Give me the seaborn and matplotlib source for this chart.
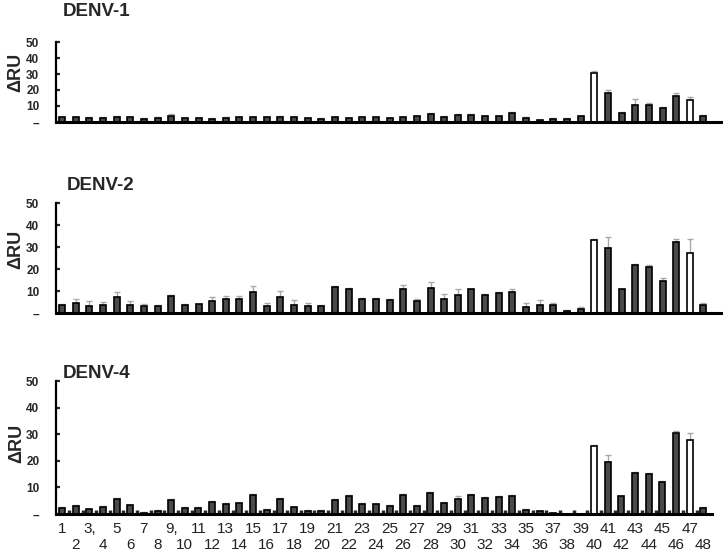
import numpy as np
import pandas as pd
import matplotlib
matplotlib.use("Agg")
import matplotlib.pyplot as plt
import seaborn as sns

##### DATA #####
peptides = list(range(1, 49))
white_bars = [40, 47]

denv1 = [2.9, 2.9, 2.8, 2.8, 3.3, 2.9, 1.9, 2.8, 3.9, 2.3, 2.5, 1.9,
         2.7, 2.9, 2.9, 2.9, 3.1, 2.9, 2.3, 2.1, 2.9, 2.3, 2.9, 2.9,
         2.3, 2.9, 3.5, 5.1, 3.3, 4.3, 4.3, 3.5, 3.5, 5.6, 2.7, 1.0,
         2.1, 2.1, 3.5, 30.5, 17.9, 5.6, 10.9, 10.5, 8.8, 16.5, 13.8, 3.9]
denv1_err = [0.4, 0.4, 0.4, 0.4, 0.5, 0.4, 0.3, 0.4, 0.8, 0.3, 0.3, 0.3,
             0.4, 0.4, 0.4, 0.4, 0.5, 0.4, 0.3, 0.3, 0.4, 0.3, 0.4, 0.4,
             0.3, 0.4, 0.5, 0.5, 0.4, 0.5, 0.5, 0.4, 0.4, 0.5, 0.3, 0.2,
             0.3, 0.3, 0.5, 1.5, 1.9, 0.5, 3.5, 1.4, 0.6, 1.6, 1.6, 0.5]

denv2 = [3.8, 4.8, 3.5, 3.6, 7.3, 3.9, 3.5, 3.5, 8.0, 3.8, 4.1, 5.8,
         6.5, 6.4, 9.7, 3.5, 7.6, 3.8, 3.3, 3.2, 12.1, 11.2, 6.3, 6.5,
         6.2, 11.2, 5.8, 11.4, 6.5, 8.2, 10.8, 8.5, 9.2, 9.5, 3.0, 3.8,
         3.6, 1.1, 2.0, 33.2, 29.5, 10.8, 21.8, 21.2, 14.7, 32.4, 27.3, 3.8]
denv2_err = [0.5, 1.7, 2.0, 1.4, 2.4, 1.8, 0.6, 0.3, 0.5, 0.6, 0.3, 1.4,
             1.4, 1.5, 2.7, 1.0, 2.6, 2.3, 1.2, 0.6, 0.3, 0.4, 0.6, 0.4,
             0.5, 1.8, 0.5, 3.0, 2.1, 2.7, 0.4, 0.3, 0.5, 1.4, 1.5, 2.4,
             1.2, 0.2, 1.0, 0.3, 5.0, 0.3, 0.4, 0.5, 1.2, 1.5, 6.4, 1.0]

denv4 = [2.2, 3.1, 1.7, 2.7, 5.6, 3.2, 0.5, 1.2, 5.4, 2.2, 2.4, 4.5,
         3.9, 4.0, 7.1, 1.6, 5.5, 2.5, 1.2, 1.2, 5.3, 6.8, 3.9, 3.6,
         3.1, 7.0, 3.1, 7.9, 4.3, 5.8, 7.3, 5.9, 6.3, 6.9, 1.5, 1.2,
         0.2, 0.0, 0.0, 25.6, 19.6, 6.6, 15.3, 14.9, 12.1, 30.3, 27.9, 2.3]
denv4_err = [0.3, 0.4, 0.2, 0.3, 0.4, 0.3, 0.1, 0.2, 0.4, 0.3, 0.3, 0.4,
             0.3, 0.3, 0.5, 0.2, 0.4, 0.3, 0.2, 0.2, 0.3, 0.4, 0.3, 0.3,
             0.3, 0.4, 0.3, 0.5, 0.3, 0.8, 0.4, 0.3, 0.3, 0.4, 0.2, 0.1,
             0.0, 0.0, 0.0, 0.3, 2.5, 0.3, 0.4, 0.4, 0.3, 1.0, 2.5, 0.3]

ytick_vals = [0, 10, 20, 30, 40, 50]
ytick_labels = ["–", "10", "20", "30", "40", "50"]
odd_pos = [p for p in peptides if p % 2 == 1]
odd_labels = ["3," if p == 3 else "9," if p == 9 else str(p) for p in odd_pos]
even_pos = [p for p in peptides if p % 2 == 0]
even_labels = [str(p) for p in even_pos]

##### STYLE #####
sns.set_style("white")
plt.rcParams["font.family"] = ["Liberation Sans", "DejaVu Sans"]

fig = plt.figure(figsize=(7.23, 5.55), dpi=100)

# title, values, errors, axes rect, xmax, label y, title position
panels = [
    ("DENV-1", denv1, denv1_err, [0.0775, 0.7802, 0.921, 0.1441], 49.35, 0.62, (63, 12)),
    ("DENV-2", denv2, denv2_err, [0.0775, 0.4355, 0.921, 0.1987], 49.35, 0.58, (67, 186)),
    ("DENV-4", denv4, denv4_err, [0.0775, 0.0739, 0.907, 0.2396], 48.62, 0.53, (63, 374)),
]

pal = {"grey": "#4a4a4a", "white": "white"}

for i, (title, vals, errs, rect, xmax, laby, tpos) in enumerate(panels):
    ax = fig.add_axes(rect)
    df = pd.DataFrame({
        "peptide": peptides,
        "ru": vals,
        "kind": ["white" if p in white_bars else "grey" for p in peptides],
    })
    ax.errorbar(df.peptide, df.ru, yerr=[np.zeros(len(errs)), errs], fmt="none",
                ecolor="#a9a9a9", elinewidth=1, capsize=2.5, capthick=1, zorder=1)
    sns.barplot(data=df, x="peptide", y="ru", hue="kind", palette=pal,
                native_scale=True, dodge=False, width=0.44, edgecolor="black",
                linewidth=1.2, errorbar=None, legend=False, ax=ax, zorder=2)

    ax.set_xlim(0.56, xmax)
    ax.set_ylim(0, 50)
    sns.despine(ax=ax)
    ax.spines["left"].set_linewidth(1.6)
    ax.spines["bottom"].set_linewidth(2.2)
    ax.spines["left"].set_color("black")
    ax.spines["bottom"].set_color("black")

    ax.set_yticks(ytick_vals, ytick_labels)
    ax.tick_params(axis="y", direction="in", length=3, width=1.6, pad=12,
                   labelsize=8.5, left=True)
    for t in ax.get_yticklabels():
        t.set_fontweight("bold")

    if i < 2:
        ax.set_xticks([])
    else:
        ax.set_xticks(odd_pos, odd_labels)
        ax.set_xticks(np.arange(1.5, 48.5, 1), minor=True)
        ax.tick_params(axis="x", which="major", length=0, pad=6,
                       labelsize=11, labelcolor="#222222")
        ax.tick_params(axis="x", which="minor", direction="in", length=3,
                       width=2.5, bottom=True)
        sec = ax.secondary_xaxis("bottom")
        sec.set_xticks(even_pos, even_labels)
        sec.tick_params(axis="x", length=0, pad=17, labelsize=11,
                        labelcolor="#222222")
        sec.spines["bottom"].set_visible(False)

    ax.set_xlabel("")
    ax.set_ylabel("ΔRU", fontsize=13, fontweight="bold")
    ax.yaxis.set_label_coords(-0.047, laby)

    fig.text(tpos[0] / 723, 1 - tpos[1] / 555, title, ha="left", va="center",
             fontsize=13.5, fontweight="bold")

fig.savefig("out.png", dpi=100)
